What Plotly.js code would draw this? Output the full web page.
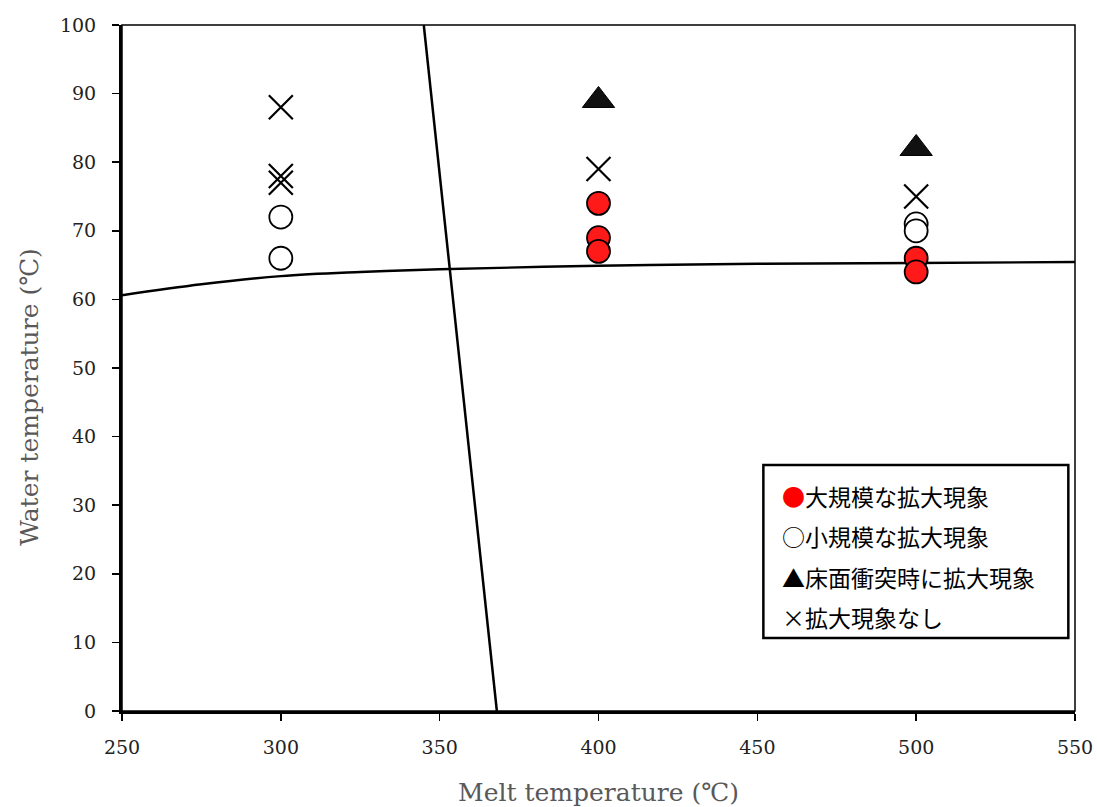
<!DOCTYPE html>
<html>
<head>
<meta charset="utf-8">
<script src="https://cdn.plot.ly/plotly-3.0.1.min.js"></script>
<style>html,body{margin:0;padding:0;background:#fff;}#chart{width:1097px;height:807px;}</style>
</head>
<body>
<div id="chart"></div>
<script>
// Data
const largeX = [400, 400, 400, 500, 500];
const largeY = [74, 69, 67, 66, 64];
const smallX = [300, 300, 500, 500];
const smallY = [72, 66, 71, 70];
const floorX = [400, 500];
const floorY = [89, 82];
const noneX = [300, 300, 300, 400, 500];
const noneY = [88, 78, 77, 79, 75];
const curveX = [250, 275, 300, 325, 350, 400, 450, 500, 550];
const curveY = [60.6, 62.2, 63.4, 64.0, 64.4, 64.9, 65.2, 65.3, 65.45];
const lineX = [345, 368];
const lineY = [100, 0];
const legendLabels = [
  '<span style="color:#ff0000">●</span>大規模な拡大現象',
  '○小規模な拡大現象',
  '▲床面衝突時に拡大現象',
  '×拡大現象なし'
];
const xTicks = [250, 300, 350, 400, 450, 500, 550];
const yTicks = [0, 10, 20, 30, 40, 50, 60, 70, 80, 90, 100];

const serif = '"DejaVu Serif", serif';

const traces = [
  {x: curveX, y: curveY, mode: 'lines', line: {color: '#000', width: 2.4, shape: 'spline'}, hoverinfo: 'skip'},
  {x: lineX, y: lineY, mode: 'lines', line: {color: '#000', width: 2.5}, hoverinfo: 'skip'},
  {x: noneX, y: noneY, mode: 'markers', marker: {symbol: 'x-thin-open', size: 24, color: '#000', line: {color: '#000', width: 2.2}}},
  {x: smallX, y: smallY, mode: 'markers', marker: {symbol: 'circle', size: 23, color: '#fff', line: {color: '#000', width: 1.8}}},
  {x: largeX, y: largeY, mode: 'markers', marker: {symbol: 'circle', size: 23, color: '#ff1a1a', line: {color: '#000', width: 1.8}}},
  {x: floorX, y: floorY, mode: 'markers', marker: {symbol: 'triangle-up', size: 28, color: '#111', line: {color: '#000', width: 1}}}
];

const annotations = legendLabels.map((t, i) => ({
  xref: 'paper', yref: 'paper', x: 0.69, y: 0.313 - i * 0.0585,
  xanchor: 'left', yanchor: 'middle', showarrow: false, text: t,
  font: {family: '"Noto Sans CJK JP", sans-serif', size: 23, color: '#000'}
}));
annotations.push({
  xref: 'paper', yref: 'paper', x: 0, y: 0.458, xshift: -92,
  xanchor: 'center', yanchor: 'middle', showarrow: false, textangle: -90,
  text: 'Water temperature (℃)',
  font: {family: serif, size: 25, color: '#595959'}
});

const layout = {
  width: 1097, height: 807,
  margin: {l: 122, r: 22, t: 25, b: 96},
  paper_bgcolor: '#fff', plot_bgcolor: '#fff',
  showlegend: false,
  font: {family: serif, size: 19, color: '#000'},
  xaxis: {
    range: [250, 550], tickvals: xTicks, ticks: 'outside', ticklen: 7, tickwidth: 1.5, tickcolor: '#000',
    showline: true, linecolor: '#000', linewidth: 3, showgrid: false, zeroline: false,
    ticklabelstandoff: 10,
    tickfont: {family: serif, size: 19, color: '#222'},
    title: {text: 'Melt temperature (℃)', font: {family: serif, size: 25, color: '#595959'}, standoff: 28}
  },
  yaxis: {
    range: [0, 100], tickvals: yTicks, ticks: 'outside', ticklen: 7, tickwidth: 1.5, tickcolor: '#000',
    showline: true, linecolor: '#000', linewidth: 3, showgrid: false, zeroline: false,
    ticklabelstandoff: 12,
    tickfont: {family: serif, size: 19, color: '#222'}
  },
  shapes: [
    {type: 'rect', xref: 'paper', yref: 'paper', x0: 0, x1: 1, y0: 0, y1: 1, line: {color: '#000', width: 1.5}, layer: 'above'},
    {type: 'rect', xref: 'paper', yref: 'paper', x0: 0.673, x1: 0.993, y0: 0.1064, y1: 0.3586, fillcolor: '#fff', line: {color: '#000', width: 2.5}, layer: 'above'}
  ],
  annotations: annotations
};

Plotly.newPlot('chart', traces, layout, {displayModeBar: false, staticPlot: true});
</script>
</body>
</html>
